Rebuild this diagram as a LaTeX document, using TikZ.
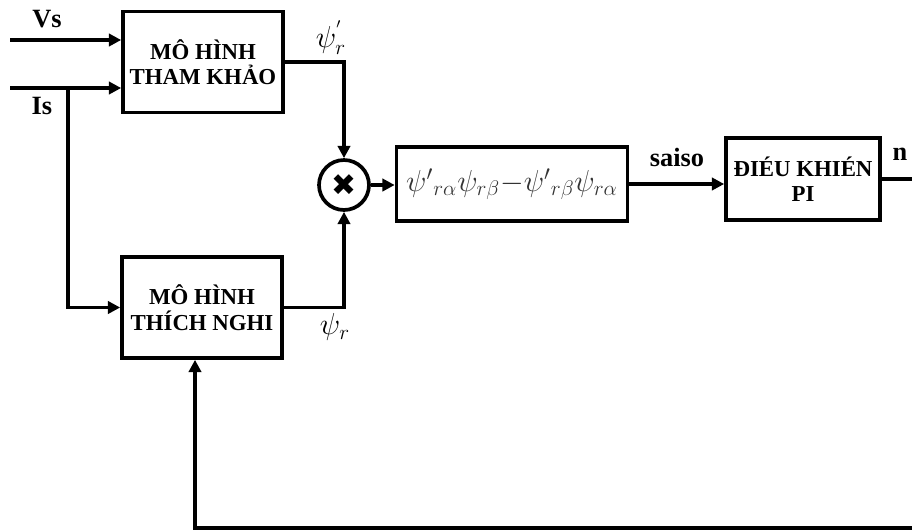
\documentclass[tikz,border=0pt]{standalone}
\usepackage{fontspec}
\setmainfont{Liberation Serif}
\newfontfamily\symfont{DejaVu Sans}
\usetikzlibrary{arrows.meta}
\begin{document}
\begin{tikzpicture}[x=0.02cm,y=-0.02cm,
  blk/.style={draw,line width=2.1pt,minimum width=#1,align=center,font=\bfseries\fontsize{13}{14.5}\selectfont,inner sep=0pt},
  conn/.style={line width=2.1pt},
  arr/.style={conn,-{Triangle[length=7pt,width=7pt]}},
  lbl/.style={font=\bfseries\fontsize{15}{16}\selectfont,inner sep=0pt}]
\useasboundingbox (0,0) rectangle (912,531);
\node[blk=3.2cm,minimum height=2.02cm] (ref) at (203,62) {MÔ HÌNH\\THAM KHẢO};
\node[blk=3.2cm,minimum height=2.02cm] (ada) at (202,307.5) {MÔ HÌNH\\THÍCH NGHI};
\node[draw,circle,line width=2.1pt,minimum size=1.0cm,inner sep=0pt,font=\symfont\fontsize{17}{17}\selectfont] (mul) at (344,185) {✖};
\node[draw,line width=2.1pt,minimum width=4.62cm,minimum height=1.48cm,inner sep=0pt,text=black!80,font=\fontsize{17}{19}\selectfont] (err) at (512,184) {$\psi'{}_{r\alpha}\psi_{r\beta}{-}\psi'{}_{r\beta}\psi_{r\alpha}$};
\node[blk=3.08cm,minimum height=1.64cm] (pi) at (803,179) {ĐIÉU KHIÉN\\PI};
\coordinate (vs) at (10,40);
\coordinate (is) at (10,88);
\coordinate (br) at (68,88);
\coordinate (out) at (912,179);
\coordinate (fbr) at (912,528);
\coordinate (fbl) at (195,528);
\node[lbl] (vsl) at (47,19) {Vs};
\node[lbl] (isl) at (42,106) {Is};
\node[lbl] (sl) at (677,157) {saiso};
\node[lbl] (nl) at (900,154) {n};
\node[inner sep=0pt,font=\fontsize{17}{18}\selectfont] (p1) at (331,38) {$\psi_r^{'}$};
\node[inner sep=0pt,font=\fontsize{17}{18}\selectfont] (p2) at (335,327) {$\psi_r$};
\draw[arr] (vs) -- (vs -| ref.west);
\draw[arr] (is) -- (is -| ref.west);
\draw[arr] (br) |- (ada.west);
\draw[arr] (ref.east) -| (mul.north);
\draw[arr] (ada.east) -| (mul.south);
\draw[arr] (mul.east) -- (mul.east -| err.west);
\draw[arr] (err.east) -- (err.east -| pi.west);
\draw[conn] (pi.east) -- (out);
\draw[arr] (fbr) -- (fbl) -- (fbl |- ada.south);
\end{tikzpicture}
\end{document}
